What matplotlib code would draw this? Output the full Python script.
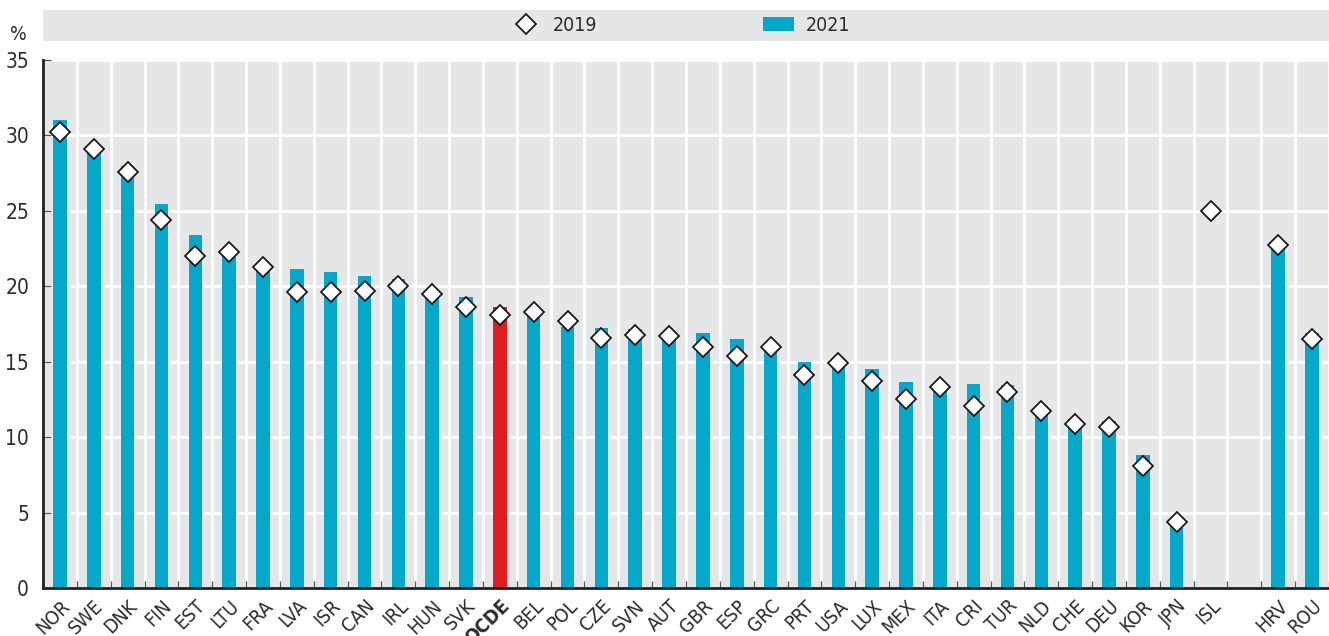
import numpy as np
import matplotlib
matplotlib.use("Agg")
import matplotlib.pyplot as plt
from matplotlib.lines import Line2D
from matplotlib.patches import Patch

plt.rcParams['font.family'] = ['DejaVu Sans']
plt.rcParams['font.stretch'] = 'condensed'

# Data (empty string = gap between groups)
countries = ["NOR", "SWE", "DNK", "FIN", "EST", "LTU", "FRA", "LVA", "ISR", "CAN",
             "IRL", "HUN", "SVK", "OCDE", "BEL", "POL", "CZE", "SVN", "AUT", "GBR",
             "ESP", "GRC", "PRT", "USA", "LUX", "MEX", "ITA", "CRI", "TUR", "NLD",
             "CHE", "DEU", "KOR", "JPN", "ISL", "", "HRV", "ROU"]
val_2021 = [31.0, 29.3, 28.0, 25.45, 23.4, 22.1, 21.0, 21.15, 20.95, 20.7,
            20.5, 19.6, 19.3, 18.65, 18.1, 17.3, 17.25, 17.15, 16.95, 16.9,
            16.5, 15.8, 15.0, 14.8, 14.5, 13.65, 13.2, 13.5, 13.45, 12.05,
            11.2, 11.05, 8.8, 4.3, np.nan, np.nan, 22.6, 16.9]
val_2019 = [30.2, 29.1, 27.6, 24.4, 22.0, 22.3, 21.3, 19.6, 19.65, 19.7,
            20.0, 19.5, 18.65, 18.1, 18.3, 17.7, 16.55, 16.75, 16.7, 15.95,
            15.35, 16.0, 14.15, 14.9, 13.7, 12.5, 13.3, 12.05, 13.0, 11.7,
            10.85, 10.65, 8.1, 4.4, 25.0, np.nan, 22.75, 16.5]

blue = "#05a8cb"
red = "#e01b22"
bg = "#e5e6e8"
txt = "#2b2b2b"

fig = plt.figure(figsize=(13.29, 6.36), dpi=100)
ax = fig.add_axes([43 / 1329, 48 / 636, 1 - 43 / 1329, 528 / 636])
ax.set_facecolor(bg)

x = np.arange(len(countries))
colors = [red if c == "OCDE" else blue for c in countries]
ax.bar(x, val_2021, width=0.4, color=colors, zorder=2)
ax.plot(x, val_2019, linestyle="none", marker="D", markersize=10.5,
        markerfacecolor="white", markeredgecolor="#1a1a1a", markeredgewidth=1.3, zorder=3)

ax.set_xlim(-0.5, len(countries) - 0.5)
ax.set_ylim(0, 35)
ax.set_yticks(np.arange(0, 36, 5))
ax.set_xticks(x)
ax.set_xticklabels(countries, rotation=45, ha="right", rotation_mode="anchor", fontsize=14, color=txt)
for lab in ax.get_xticklabels():
    if lab.get_text() == "OCDE":
        lab.set_fontweight("bold")
ax.set_xticks(np.arange(-0.5, len(countries), 1.0), minor=True)
ax.tick_params(axis="x", which="major", length=0, pad=6)
ax.tick_params(axis="x", which="minor", direction="in", length=5, width=1, color="#555555")
ax.tick_params(axis="y", direction="in", length=6, width=1, color="#555555", labelsize=15, labelcolor=txt, pad=10)

ax.grid(axis="y", which="major", color="white", linewidth=2, zorder=0)
ax.grid(axis="x", which="minor", color="white", linewidth=2, zorder=0)
ax.grid(axis="x", which="major", visible=False)
ax.set_axisbelow(True)

for s in ["top", "right"]:
    ax.spines[s].set_visible(False)
for s in ["left", "bottom"]:
    ax.spines[s].set_color("#222222")
    ax.spines[s].set_linewidth(2)

fig.text(18 / 1329, 1 - 35 / 636, "%", fontsize=14, color=txt, ha="center", va="center")

# legend band
band = fig.add_axes([43 / 1329, 1 - 41 / 636, 1 - 43 / 1329, 31 / 636])
band.set_facecolor(bg)
band.set_xticks([])
band.set_yticks([])
for s in band.spines.values():
    s.set_visible(False)
handles = [Line2D([], [], linestyle="none", marker="D", markersize=10.5, markerfacecolor="white",
                  markeredgecolor="#1a1a1a", markeredgewidth=1.3),
           Patch(facecolor=blue)]
fig.legend(handles, ["2019", "2021"], loc="center left", bbox_to_anchor=(510 / 1329, 1 - 25.5 / 636),
           ncol=2, frameon=False, fontsize=14, columnspacing=8.5, handlelength=1.6,
           handletextpad=0.6, labelcolor=txt, borderpad=0, borderaxespad=0)

fig.savefig("out.png", dpi=100, facecolor="white")
